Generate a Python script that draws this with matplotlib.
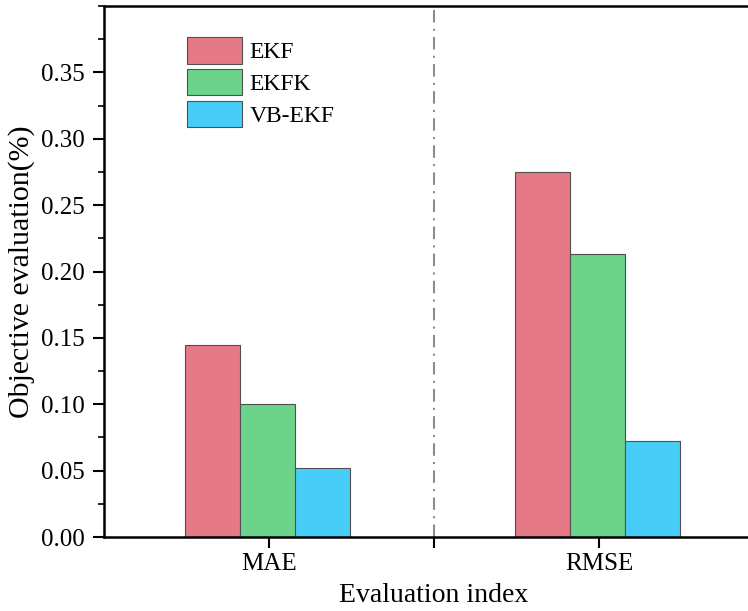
import numpy as np
import matplotlib.pyplot as plt
from matplotlib.ticker import MultipleLocator

# data
categories = ['MAE', 'RMSE']
methods = ['EKF', 'EKFK', 'VB-EKF']
ekf = [0.145, 0.275]
ekfk = [0.100, 0.213]
vb_ekf = [0.052, 0.072]

colors = ['#E57A86', '#6CD38A', '#48CDF8']

plt.rcParams['font.family'] = ['Liberation Serif', 'DejaVu Serif']

fig = plt.figure(figsize=(7.48, 6.11), dpi=100)
# right spine of the original is cropped off the picture
ax = fig.add_axes([104 / 748, 1 - 537 / 611, 660 / 748, 531 / 611])

x = np.arange(len(categories))
w = 1 / 6
for i, (vals, name) in enumerate(zip([ekf, ekfk, vb_ekf], methods)):
    ax.bar(x + (i - 1) * w - 0.005, vals, width=w, color=colors[i], edgecolor='#505050',
           linewidth=0.8, label=name, zorder=2)

ax.axvline(0.5, color='#8c8c8c', linestyle=(0, (6, 3, 1, 3)), linewidth=1.5, zorder=1)

ax.set_xlim(-0.5, 1.5)
ax.set_ylim(0, 0.40)
ax.set_xticks(x)
ax.set_xticklabels(categories)
ax.set_xticks([0.5], minor=True)
ax.yaxis.set_minor_locator(MultipleLocator(0.025))
yt = np.arange(0, 0.351, 0.05)
ax.set_yticks(yt)
ax.set_yticklabels([f'{v:.2f}' for v in yt])

ax.tick_params(axis='both', which='major', direction='out', length=8, width=1.5, labelsize=18)
ax.tick_params(axis='y', which='major', pad=6)
ax.tick_params(axis='y', which='minor', direction='out', length=4, width=1.2)
ax.tick_params(axis='x', which='minor', direction='out', length=8, width=1.5)
for s in ax.spines.values():
    s.set_linewidth(1.8)

ax.set_xlabel('Evaluation index', fontsize=20, labelpad=6)
ax.set_ylabel('Objective evaluation(%)', fontsize=21.5, labelpad=4)

leg = ax.legend(loc='upper left', bbox_to_anchor=(0.111, 0.959), frameon=False, fontsize=17,
                handlelength=2.35, handleheight=1.35, handletextpad=0.3, labelspacing=0.22,
                borderaxespad=0)

fig.savefig('out.png', dpi=100)
